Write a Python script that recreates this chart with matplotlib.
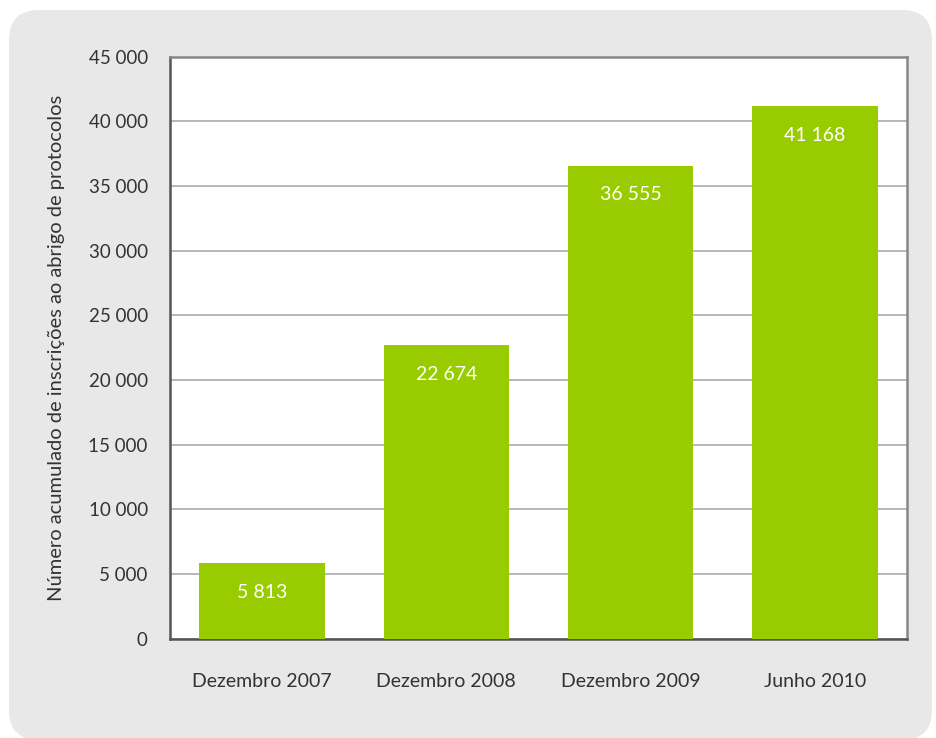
import matplotlib.pyplot as plt
from matplotlib.patches import FancyBboxPatch

categories = ['Dezembro 2007', 'Dezembro 2008', 'Dezembro 2009', 'Junho 2010']
values = [5813, 22674, 36555, 41168]
value_labels = ['5 813', '22 674', '36 555', '41 168']
yticks = [0, 5000, 10000, 15000, 20000, 25000, 30000, 35000, 40000, 45000]
ytick_labels = ['0', '5 000', '10 000', '15 000', '20 000', '25 000',
                '30 000', '35 000', '40 000', '45 000']

plt.rcParams['font.family'] = ['Lato', 'DejaVu Sans']
text_color = '#333333'

W, H = 937, 738
fig = plt.figure(figsize=(W / 100, H / 100), dpi=100)
fig.patch.set_facecolor('white')

# rounded grey panel behind the chart, on its own background axes
bg = fig.add_axes([0, 0, 1, 1], zorder=-1)
bg.set_xlim(0, W)
bg.set_ylim(0, H)
bg.axis('off')
bg.add_patch(FancyBboxPatch((9, -2), 923, 730,
                            boxstyle='round,pad=0,rounding_size=30',
                            facecolor='#e8e8e8', edgecolor='none'))

left, right, top, bottom = 170, 907, 56.5, 638.5
ax = fig.add_axes([left / W, 1 - bottom / H, (right - left) / W, (bottom - top) / H])
ax.set_facecolor('white')

x = range(len(categories))
ax.bar(x, values, width=0.68, color='#99cc00', zorder=3)
for xi, v, lab in zip(x, values, value_labels):
    ax.annotate(lab, (xi, v), xytext=(0, -29), textcoords='offset pixels',
                ha='center', va='center', color='white', fontsize=14, zorder=4)

ax.set_xlim(-0.5, 3.5)
ax.set_ylim(0, 45000)
ax.set_yticks(yticks)
ax.set_yticklabels(ytick_labels)
ax.set_xticks(list(x))
ax.set_xticklabels(categories)
ax.tick_params(axis='y', length=0, pad=16, labelsize=13.5, labelcolor=text_color)
ax.tick_params(axis='x', length=0, pad=25, labelsize=14, labelcolor=text_color)
ax.yaxis.grid(True, color='#aaaaaa', linewidth=1.2, zorder=1)
ax.set_axisbelow(True)

for side in ('left', 'bottom'):
    ax.spines[side].set_color('#555555')
    ax.spines[side].set_linewidth(1.8)
for side in ('top', 'right'):
    ax.spines[side].set_color('#888888')
    ax.spines[side].set_linewidth(1.8)

ax.set_ylabel('Número acumulado de inscrições ao abrigo de protocolos',
              fontsize=14.5, color=text_color, labelpad=17)

fig.savefig('out.png', dpi=100)
